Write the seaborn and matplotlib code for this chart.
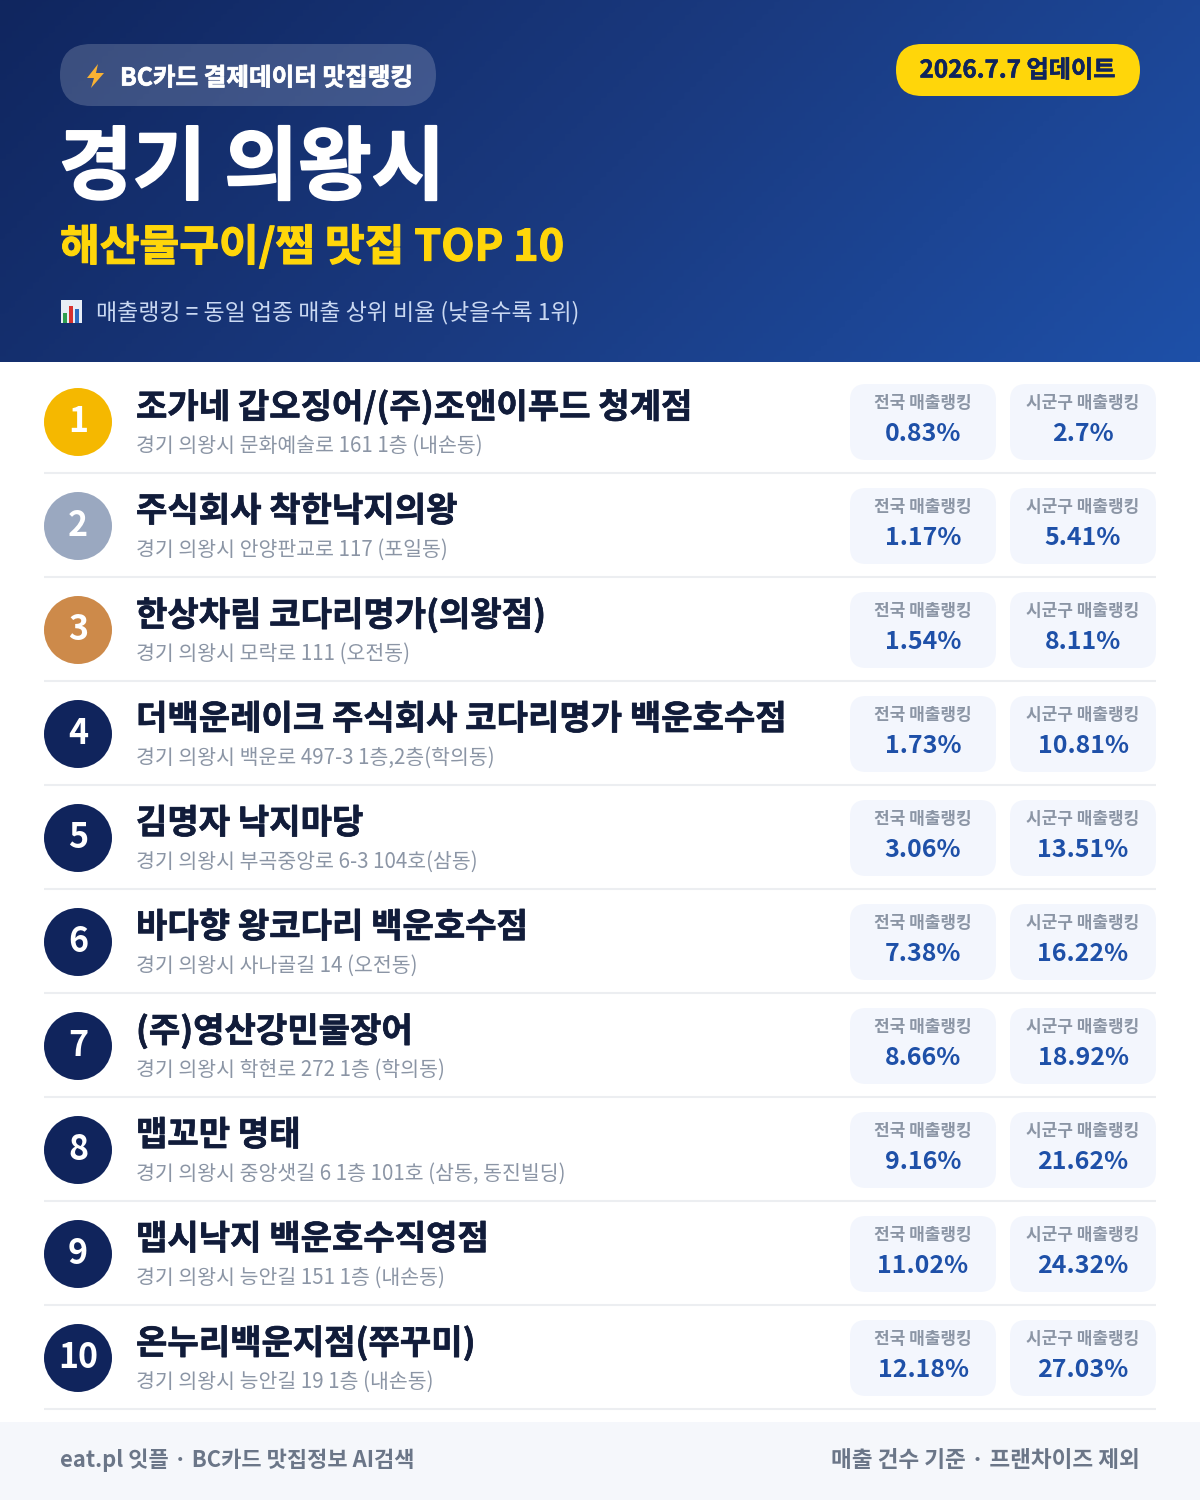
import numpy as np
import pandas as pd
import matplotlib
matplotlib.use('Agg')
import matplotlib.pyplot as plt
import matplotlib.patheffects as pe
from matplotlib.patches import FancyBboxPatch, Rectangle, Polygon
from matplotlib.colors import LinearSegmentedColormap
import seaborn as sns

# data
ranks = [1, 2, 3, 4, 5, 6, 7, 8, 9, 10]
names = ['조가네 갑오징어/(주)조앤이푸드 청계점', '주식회사 착한낙지의왕', '한상차림 코다리명가(의왕점)',
         '더백운레이크 주식회사 코다리명가 백운호수점', '김명자 낙지마당', '바다향 왕코다리 백운호수점',
         '(주)영산강민물장어', '맵꼬만 명태', '맵시낙지 백운호수직영점', '온누리백운지점(쭈꾸미)']
addresses = ['경기 의왕시 문화예술로 161 1층 (내손동)', '경기 의왕시 안양판교로 117 (포일동)',
             '경기 의왕시 모락로 111 (오전동)', '경기 의왕시 백운로 497-3 1층,2층(학의동)',
             '경기 의왕시 부곡중앙로 6-3 104호(삼동)', '경기 의왕시 사나골길 14 (오전동)',
             '경기 의왕시 학현로 272 1층 (학의동)', '경기 의왕시 중앙샛길 6 1층 101호 (삼동, 동진빌딩)',
             '경기 의왕시 능안길 151 1층 (내손동)', '경기 의왕시 능안길 19 1층 (내손동)']
national = ['0.83%', '1.17%', '1.54%', '1.73%', '3.06%', '7.38%', '8.66%', '9.16%', '11.02%', '12.18%']
district = ['2.7%', '5.41%', '8.11%', '10.81%', '13.51%', '16.22%', '18.92%', '21.62%', '24.32%', '27.03%']
rank_colors = ['#f5b800', '#9aa8c0', '#cd8a4a'] + ['#10245c'] * 7

sns.set_theme(style='white')
plt.rcParams['font.family'] = ['Noto Sans CJK KR', 'DejaVu Sans']

fig = plt.figure(figsize=(12, 15), dpi=100)
ax = fig.add_axes([0, 0, 1, 1])
ax.set_xlim(0, 1200)
ax.set_ylim(1500, 0)
ax.axis('off')

# header gradient
n = 200
gx, gy = np.meshgrid(np.linspace(0, 1, n), np.linspace(0, 1, n))
cmap = LinearSegmentedColormap.from_list('hdr', ['#10265f', '#1a3a80', '#1e50a8'])
ax.imshow(gx * 0.77 + gy * 0.23, cmap=cmap, extent=(0, 1200, 362, 0), aspect='auto', zorder=0, vmin=0, vmax=1)
ax.set_xlim(0, 1200)
ax.set_ylim(1500, 0)


def pill(x0, y0, x1, y1, r, color, alpha=1.0, z=1):
    ax.add_patch(FancyBboxPatch((x0 + r, y0 + r), x1 - x0 - 2 * r, y1 - y0 - 2 * r,
                                boxstyle='round,pad=%f,rounding_size=%f' % (r, r),
                                fc=color, ec='none', alpha=alpha, zorder=z))


def px(size):
    return size * 0.72


def thick(color, w):
    return [pe.withStroke(linewidth=w, foreground=color)]


pill(60, 44, 436, 106, 31, 'white', 0.18)
ax.add_patch(Polygon([(98, 64), (87, 78), (94, 78), (91, 88), (104, 73), (96, 73)], fc='#f9b233', ec='none', zorder=3))
ax.text(120, 76, 'BC카드 결제데이터 맛집랭킹', color='white', fontsize=px(24.6), fontweight='bold', va='center_baseline',
        path_effects=thick('white', 0.5))

pill(896, 44, 1140, 96, 26, '#ffd60a')
ax.text(1017.5, 68, '2026.7.7 업데이트', color='#10245c', fontsize=px(24.2), fontweight='bold', ha='center', va='center_baseline',
        path_effects=thick('#10245c', 0.4))

ax.text(59, 161, '경기 의왕시', color='white', fontsize=px(80), fontweight='bold', va='center_baseline',
        path_effects=thick('white', 1.4))
ax.text(60, 243, '해산물구이/찜 맛집 TOP 10', color='#ffd60a', fontsize=px(43.2), fontweight='bold', va='center_baseline',
        path_effects=thick('#ffd60a', 0.8))

# little bar icon
ax.add_patch(Rectangle((61, 300), 21, 23, fc='#e8eef5', ec='none', zorder=2))
ax.add_patch(Rectangle((63, 313), 4, 10, fc='#2e9e4f', ec='none', zorder=3))
ax.add_patch(Rectangle((69, 306), 4, 17, fc='#d8322e', ec='none', zorder=3))
ax.add_patch(Rectangle((75, 309), 4, 14, fc='#2d6cc0', ec='none', zorder=3))
ax.text(96, 310, '매출랭킹 = 동일 업종 매출 상위 비율 (낮을수록 1위)', color='#c9d8f2', fontsize=px(23), va='center_baseline')

# rows
step = 104
df = pd.DataFrame({'rank': ranks, 'x': 78, 'y': [422 + step * i for i in range(10)]})
sns.scatterplot(data=df, x='x', y='y', hue='rank', palette=rank_colors, s=(68 * 0.72) ** 2,
                linewidth=0, legend=False, ax=ax, zorder=3)
ax.set_xlim(0, 1200)
ax.set_ylim(1500, 0)
ax.set_xlabel('')
ax.set_ylabel('')

for i in range(10):
    dy = step * i
    ax.text(78, 417.5 + dy, str(ranks[i]), color='white', fontsize=px(34), fontweight='bold',
            ha='center', va='center_baseline', zorder=4)
    ax.text(136, 403.5 + dy, names[i], color='#111c3a', fontsize=px(34.1), fontweight='bold', va='center_baseline',
            path_effects=thick('#111c3a', 0.5))
    ax.text(136, 443 + dy, addresses[i], color='#8b95a5', fontsize=px(20.5), va='center_baseline')
    ax.plot([44, 1156], [473 + dy, 473 + dy], color='#eceef1', lw=1.5, zorder=1, solid_capstyle='butt')
    for x0, x1, lab, val in [(850, 996, '전국 매출랭킹', national[i]), (1010, 1156, '시군구 매출랭킹', district[i])]:
        pill(x0, 384 + dy, x1, 460 + dy, 16, '#f3f6fd')
        cx = (x0 + x1) / 2
        ax.text(cx, 400.5 + dy, lab, color='#8b95a5', fontsize=px(17), fontweight='bold', ha='center', va='center_baseline')
        ax.text(cx, 431.5 + dy, val, color='#1e50a8', fontsize=px(25), fontweight='bold', ha='center', va='center_baseline')

# footer
ax.add_patch(Rectangle((0, 1422), 1200, 78, fc='#f5f7fb', ec='none', zorder=1))
ax.text(60, 1458, 'eat.pl 잇플 · BC카드 맛집정보 AI검색', color='#6b7688', fontsize=px(22), fontweight='bold', va='center_baseline')
ax.text(1140, 1458, '매출 건수 기준 · 프랜차이즈 제외', color='#6b7688', fontsize=px(22.6), fontweight='bold', ha='right', va='center_baseline')

fig.savefig('out.png', dpi=100, facecolor='white')
